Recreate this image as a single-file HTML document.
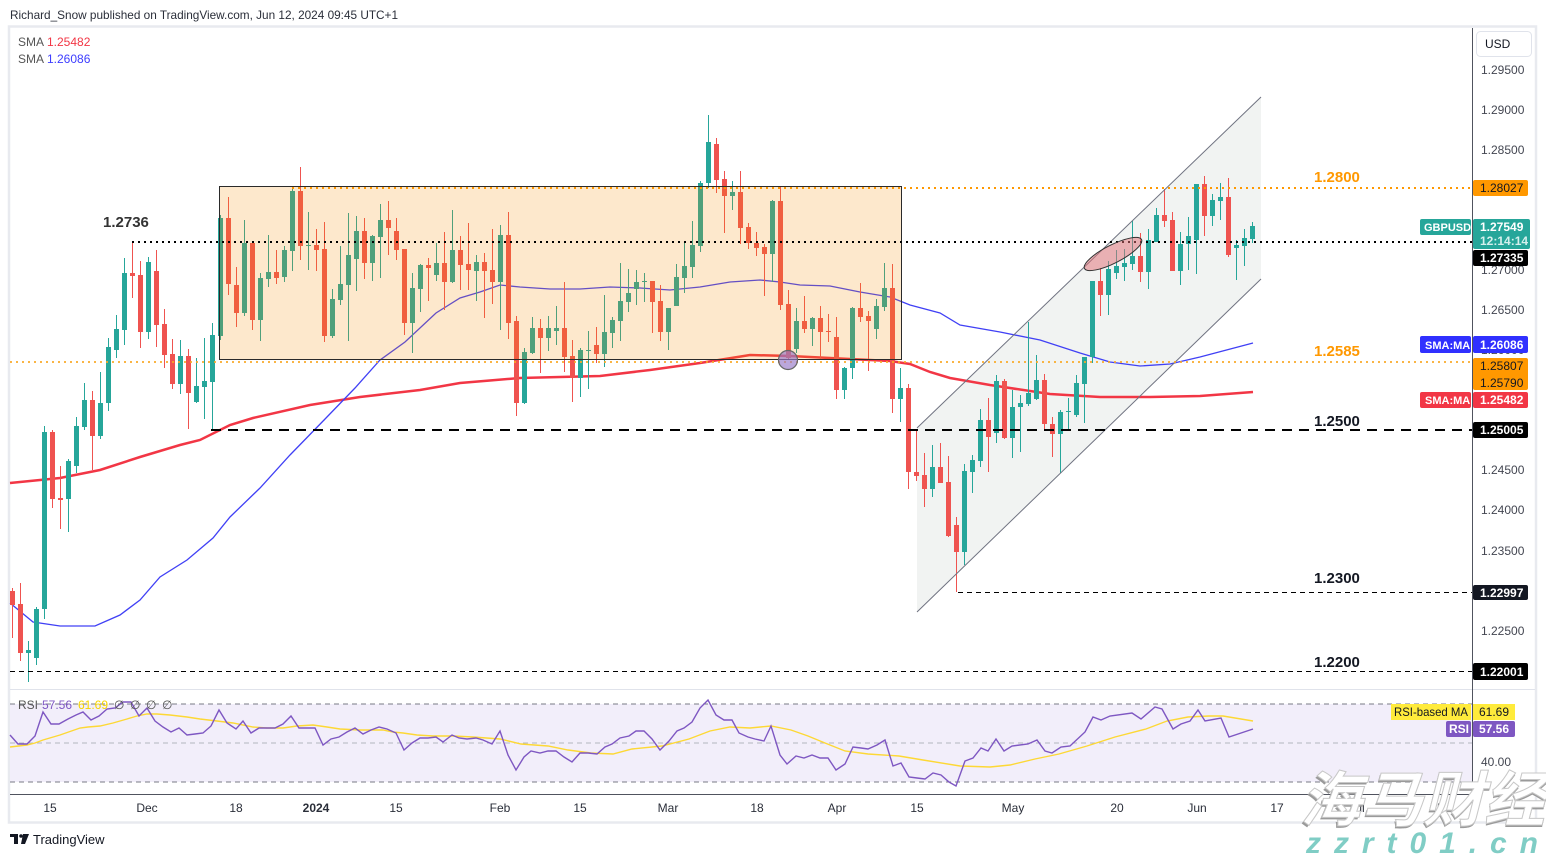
<!DOCTYPE html>
<html><head><meta charset="utf-8"><style>
html,body{margin:0;padding:0;background:#fff;width:1546px;height:857px;overflow:hidden}
svg{position:absolute;left:0;top:0;font-family:"Liberation Sans",Arial,sans-serif}
</style></head><body>
<svg width="1546" height="857" viewBox="0 0 1546 857" xmlns="http://www.w3.org/2000/svg">
<rect x="0" y="0" width="1546" height="857" fill="#fff"/>
<text x="10" y="19" font-size="12" fill="#2a2e39" textLength="388" lengthAdjust="spacingAndGlyphs">Richard_Snow published on TradingView.com, Jun 12, 2024 09:45 UTC+1</text>
<rect x="9" y="26.5" width="1527" height="796" fill="none" stroke="#e8eaef" stroke-width="2.5"/>

<!-- RSI pane -->
<rect x="10" y="704" width="1462" height="78" fill="#f2eefa"/>
<line x1="10" y1="704" x2="1472" y2="704" stroke="#787b86" stroke-dasharray="5 4"/>
<line x1="10" y1="743" x2="1472" y2="743" stroke="#b2b5be" stroke-dasharray="5 4"/>
<line x1="10" y1="782" x2="1472" y2="782" stroke="#787b86" stroke-dasharray="5 4"/>
<line x1="10" y1="689.5" x2="1535" y2="689.5" stroke="#e0e3eb"/>

<!-- channel fill -->
<polygon points="917,428 1261,97 1261,279 917,612" fill="#f1f3f2"/>

<!-- SMAs -->
<polyline fill="none" stroke="#f23645" stroke-width="2.5" points="10,483 60,478 100,470 140,457 180,445 200,440 230,425 253,418 310,405 360,397 420,390 460,383 520,378 600,376 650,370 700,363 750,355 790,356 830,358 890,361 910,364 930,372 950,378 990,385 1050,394 1100,397 1150,397 1200,396 1253,392"/>
<polyline fill="none" stroke="#4040f5" stroke-width="1.3" points="10,603 33,622 60,626 95,626 120,615 140,600 160,577 187,560 213,538 230,517 260,488 290,455 326,418 355,388 380,360 405,342 436,313 460,298 480,292 500,285 520,287 550,289 580,289 610,287 640,288 670,290 700,287 730,282 760,280 780,282 800,285 830,286 860,292 890,297 910,305 940,313 960,325 1000,332 1040,340 1080,353 1110,362 1140,366 1170,364 1200,357 1253,343"/>

<!-- green candles -->
<g fill="#26a69a">
<rect x="26" y="650" width="5" height="3"/><rect x="28" y="641" width="1" height="41"/>
<rect x="34" y="609" width="5" height="49"/><rect x="36" y="607" width="1" height="58"/>
<rect x="42" y="432" width="5" height="177"/><rect x="44" y="426" width="1" height="193"/>
<rect x="66" y="461" width="5" height="38"/><rect x="68" y="459" width="1" height="73"/>
<rect x="74" y="426" width="5" height="40"/><rect x="76" y="417" width="1" height="56"/>
<rect x="82" y="400" width="5" height="27"/><rect x="84" y="383" width="1" height="47"/>
<rect x="98" y="403" width="5" height="33"/><rect x="100" y="372" width="1" height="67"/>
<rect x="106" y="347" width="5" height="56"/><rect x="108" y="338" width="1" height="73"/>
<rect x="114" y="329" width="5" height="21"/><rect x="116" y="315" width="1" height="43"/>
<rect x="122" y="273" width="5" height="57"/><rect x="124" y="258" width="1" height="87"/>
<rect x="146" y="262" width="5" height="70"/><rect x="148" y="257" width="1" height="82"/>
<rect x="178" y="356" width="5" height="28"/><rect x="180" y="340" width="1" height="54"/>
<rect x="194" y="386" width="5" height="16"/><rect x="196" y="358" width="1" height="45"/>
<rect x="202" y="381" width="5" height="6"/><rect x="204" y="338" width="1" height="81"/>
<rect x="210" y="335" width="5" height="47"/><rect x="212" y="323" width="1" height="107"/>
<rect x="218" y="218" width="5" height="118"/><rect x="220" y="215" width="1" height="125"/>
<rect x="242" y="243" width="5" height="70"/><rect x="244" y="220" width="1" height="96"/>
<rect x="258" y="278" width="5" height="42"/><rect x="260" y="273" width="1" height="68"/>
<rect x="266" y="272" width="5" height="7"/><rect x="268" y="235" width="1" height="52"/>
<rect x="282" y="250" width="5" height="27"/><rect x="284" y="246" width="1" height="36"/>
<rect x="290" y="191" width="5" height="60"/><rect x="292" y="188" width="1" height="83"/>
<rect x="306" y="245" width="5" height="1"/><rect x="308" y="212" width="1" height="58"/>
<rect x="330" y="299" width="5" height="37"/><rect x="332" y="289" width="1" height="49"/>
<rect x="338" y="284" width="5" height="16"/><rect x="340" y="246" width="1" height="59"/>
<rect x="346" y="255" width="5" height="30"/><rect x="348" y="213" width="1" height="128"/>
<rect x="354" y="231" width="5" height="28"/><rect x="356" y="216" width="1" height="75"/>
<rect x="370" y="236" width="5" height="27"/><rect x="372" y="235" width="1" height="46"/>
<rect x="378" y="220" width="5" height="17"/><rect x="380" y="204" width="1" height="74"/>
<rect x="410" y="288" width="5" height="35"/><rect x="412" y="273" width="1" height="80"/>
<rect x="418" y="265" width="5" height="24"/><rect x="420" y="264" width="1" height="48"/>
<rect x="434" y="263" width="5" height="12"/><rect x="436" y="243" width="1" height="38"/>
<rect x="450" y="250" width="5" height="32"/><rect x="452" y="210" width="1" height="73"/>
<rect x="474" y="262" width="5" height="9"/><rect x="476" y="255" width="1" height="46"/>
<rect x="498" y="235" width="5" height="47"/><rect x="500" y="225" width="1" height="105"/>
<rect x="522" y="352" width="5" height="51"/><rect x="524" y="348" width="1" height="56"/>
<rect x="530" y="328" width="5" height="25"/><rect x="532" y="317" width="1" height="37"/>
<rect x="546" y="328" width="5" height="10"/><rect x="548" y="316" width="1" height="35"/>
<rect x="554" y="328" width="5" height="3"/><rect x="556" y="306" width="1" height="39"/>
<rect x="578" y="350" width="5" height="28"/><rect x="580" y="348" width="1" height="49"/>
<rect x="586" y="350" width="5" height="1"/><rect x="588" y="331" width="1" height="58"/>
<rect x="602" y="332" width="5" height="22"/><rect x="604" y="295" width="1" height="72"/>
<rect x="610" y="320" width="5" height="13"/><rect x="612" y="317" width="1" height="31"/>
<rect x="618" y="301" width="5" height="20"/><rect x="620" y="263" width="1" height="78"/>
<rect x="626" y="293" width="5" height="9"/><rect x="628" y="269" width="1" height="43"/>
<rect x="634" y="282" width="5" height="7"/><rect x="636" y="270" width="1" height="35"/>
<rect x="642" y="281" width="5" height="1"/><rect x="644" y="273" width="1" height="29"/>
<rect x="666" y="308" width="5" height="24"/><rect x="668" y="308" width="1" height="42"/>
<rect x="674" y="277" width="5" height="29"/><rect x="676" y="264" width="1" height="42"/>
<rect x="682" y="266" width="5" height="12"/><rect x="684" y="243" width="1" height="50"/>
<rect x="690" y="245" width="5" height="22"/><rect x="692" y="221" width="1" height="57"/>
<rect x="698" y="183" width="5" height="63"/><rect x="700" y="181" width="1" height="71"/>
<rect x="706" y="142" width="5" height="41"/><rect x="708" y="115" width="1" height="73"/>
<rect x="730" y="192" width="5" height="4"/><rect x="732" y="181" width="1" height="29"/>
<rect x="770" y="201" width="5" height="53"/><rect x="772" y="200" width="1" height="82"/>
<rect x="794" y="321" width="5" height="28"/><rect x="796" y="308" width="1" height="45"/>
<rect x="810" y="318" width="5" height="11"/><rect x="812" y="317" width="1" height="29"/>
<rect x="842" y="368" width="5" height="22"/><rect x="844" y="367" width="1" height="32"/>
<rect x="850" y="308" width="5" height="60"/><rect x="852" y="307" width="1" height="72"/>
<rect x="874" y="306" width="5" height="23"/><rect x="876" y="299" width="1" height="40"/>
<rect x="882" y="288" width="5" height="19"/><rect x="884" y="263" width="1" height="48"/>
<rect x="898" y="388" width="5" height="11"/><rect x="900" y="368" width="1" height="54"/>
<rect x="930" y="467" width="5" height="22"/><rect x="932" y="445" width="1" height="52"/>
<rect x="962" y="471" width="5" height="81"/><rect x="964" y="464" width="1" height="101"/>
<rect x="970" y="460" width="5" height="12"/><rect x="972" y="455" width="1" height="38"/>
<rect x="978" y="420" width="5" height="41"/><rect x="980" y="409" width="1" height="58"/>
<rect x="994" y="381" width="5" height="52"/><rect x="996" y="375" width="1" height="68"/>
<rect x="1010" y="407" width="5" height="31"/><rect x="1012" y="390" width="1" height="68"/>
<rect x="1018" y="403" width="5" height="4"/><rect x="1020" y="395" width="1" height="57"/>
<rect x="1026" y="393" width="5" height="11"/><rect x="1028" y="322" width="1" height="84"/>
<rect x="1034" y="380" width="5" height="19"/><rect x="1036" y="355" width="1" height="45"/>
<rect x="1058" y="412" width="5" height="22"/><rect x="1060" y="410" width="1" height="63"/>
<rect x="1066" y="411" width="5" height="1"/><rect x="1068" y="398" width="1" height="32"/>
<rect x="1074" y="383" width="5" height="32"/><rect x="1076" y="375" width="1" height="42"/>
<rect x="1082" y="357" width="5" height="27"/><rect x="1084" y="357" width="1" height="66"/>
<rect x="1090" y="281" width="5" height="76"/><rect x="1092" y="281" width="1" height="82"/>
<rect x="1106" y="269" width="5" height="26"/><rect x="1108" y="261" width="1" height="54"/>
<rect x="1114" y="266" width="5" height="7"/><rect x="1116" y="250" width="1" height="29"/>
<rect x="1122" y="263" width="5" height="4"/><rect x="1124" y="249" width="1" height="32"/>
<rect x="1130" y="256" width="5" height="8"/><rect x="1132" y="221" width="1" height="49"/>
<rect x="1146" y="240" width="5" height="32"/><rect x="1148" y="229" width="1" height="60"/>
<rect x="1154" y="215" width="5" height="27"/><rect x="1156" y="208" width="1" height="34"/>
<rect x="1178" y="244" width="5" height="27"/><rect x="1180" y="232" width="1" height="53"/>
<rect x="1186" y="236" width="5" height="8"/><rect x="1188" y="217" width="1" height="53"/>
<rect x="1194" y="184" width="5" height="56"/><rect x="1196" y="184" width="1" height="90"/>
<rect x="1210" y="200" width="5" height="16"/><rect x="1212" y="194" width="1" height="32"/>
<rect x="1218" y="197" width="5" height="4"/><rect x="1220" y="183" width="1" height="37"/>
<rect x="1234" y="245" width="5" height="3"/><rect x="1236" y="240" width="1" height="40"/>
<rect x="1242" y="238" width="5" height="8"/><rect x="1244" y="229" width="1" height="37"/>
<rect x="1250" y="226" width="5" height="13"/><rect x="1252" y="222" width="1" height="21"/>
</g>
<!-- red candles -->
<g fill="#ef5350">
<rect x="10" y="591" width="5" height="14"/><rect x="12" y="588" width="1" height="50"/>
<rect x="18" y="604" width="5" height="49"/><rect x="20" y="583" width="1" height="78"/>
<rect x="50" y="432" width="5" height="67"/><rect x="52" y="430" width="1" height="78"/>
<rect x="58" y="498" width="5" height="2"/><rect x="60" y="466" width="1" height="63"/>
<rect x="90" y="400" width="5" height="36"/><rect x="92" y="391" width="1" height="79"/>
<rect x="130" y="273" width="5" height="3"/><rect x="132" y="243" width="1" height="55"/>
<rect x="138" y="275" width="5" height="57"/><rect x="140" y="261" width="1" height="87"/>
<rect x="154" y="271" width="5" height="54"/><rect x="156" y="250" width="1" height="97"/>
<rect x="162" y="324" width="5" height="31"/><rect x="164" y="309" width="1" height="59"/>
<rect x="170" y="354" width="5" height="30"/><rect x="172" y="339" width="1" height="50"/>
<rect x="186" y="356" width="5" height="37"/><rect x="188" y="349" width="1" height="80"/>
<rect x="226" y="218" width="5" height="66"/><rect x="228" y="197" width="1" height="98"/>
<rect x="234" y="285" width="5" height="28"/><rect x="236" y="267" width="1" height="60"/>
<rect x="250" y="243" width="5" height="77"/><rect x="252" y="243" width="1" height="87"/>
<rect x="274" y="272" width="5" height="6"/><rect x="276" y="250" width="1" height="34"/>
<rect x="298" y="191" width="5" height="55"/><rect x="300" y="167" width="1" height="93"/>
<rect x="314" y="245" width="5" height="5"/><rect x="316" y="229" width="1" height="42"/>
<rect x="322" y="249" width="5" height="87"/><rect x="324" y="222" width="1" height="120"/>
<rect x="362" y="231" width="5" height="32"/><rect x="364" y="218" width="1" height="61"/>
<rect x="386" y="220" width="5" height="8"/><rect x="388" y="201" width="1" height="54"/>
<rect x="394" y="231" width="5" height="19"/><rect x="396" y="218" width="1" height="42"/>
<rect x="402" y="249" width="5" height="74"/><rect x="404" y="249" width="1" height="86"/>
<rect x="426" y="265" width="5" height="3"/><rect x="428" y="258" width="1" height="43"/>
<rect x="442" y="263" width="5" height="19"/><rect x="444" y="232" width="1" height="78"/>
<rect x="458" y="250" width="5" height="15"/><rect x="460" y="236" width="1" height="54"/>
<rect x="466" y="264" width="5" height="6"/><rect x="468" y="223" width="1" height="67"/>
<rect x="482" y="262" width="5" height="9"/><rect x="484" y="253" width="1" height="65"/>
<rect x="490" y="270" width="5" height="12"/><rect x="492" y="229" width="1" height="75"/>
<rect x="506" y="235" width="5" height="88"/><rect x="508" y="212" width="1" height="127"/>
<rect x="514" y="321" width="5" height="82"/><rect x="516" y="316" width="1" height="100"/>
<rect x="538" y="328" width="5" height="10"/><rect x="540" y="319" width="1" height="54"/>
<rect x="562" y="328" width="5" height="29"/><rect x="564" y="282" width="1" height="90"/>
<rect x="570" y="356" width="5" height="22"/><rect x="572" y="340" width="1" height="62"/>
<rect x="594" y="345" width="5" height="9"/><rect x="596" y="327" width="1" height="36"/>
<rect x="650" y="281" width="5" height="21"/><rect x="652" y="281" width="1" height="52"/>
<rect x="658" y="301" width="5" height="31"/><rect x="660" y="285" width="1" height="56"/>
<rect x="714" y="144" width="5" height="36"/><rect x="716" y="138" width="1" height="55"/>
<rect x="722" y="179" width="5" height="17"/><rect x="724" y="171" width="1" height="62"/>
<rect x="738" y="192" width="5" height="36"/><rect x="740" y="171" width="1" height="73"/>
<rect x="746" y="227" width="5" height="16"/><rect x="748" y="223" width="1" height="26"/>
<rect x="754" y="243" width="5" height="5"/><rect x="756" y="232" width="1" height="24"/>
<rect x="762" y="247" width="5" height="7"/><rect x="764" y="244" width="1" height="52"/>
<rect x="778" y="201" width="5" height="104"/><rect x="780" y="187" width="1" height="123"/>
<rect x="786" y="304" width="5" height="54"/><rect x="788" y="290" width="1" height="70"/>
<rect x="802" y="321" width="5" height="8"/><rect x="804" y="296" width="1" height="37"/>
<rect x="818" y="318" width="5" height="14"/><rect x="820" y="306" width="1" height="54"/>
<rect x="826" y="331" width="5" height="1"/><rect x="828" y="314" width="1" height="28"/>
<rect x="834" y="337" width="5" height="53"/><rect x="836" y="317" width="1" height="82"/>
<rect x="858" y="308" width="5" height="9"/><rect x="860" y="283" width="1" height="39"/>
<rect x="866" y="316" width="5" height="5"/><rect x="868" y="311" width="1" height="60"/>
<rect x="890" y="288" width="5" height="111"/><rect x="892" y="264" width="1" height="149"/>
<rect x="906" y="388" width="5" height="84"/><rect x="908" y="384" width="1" height="105"/>
<rect x="914" y="472" width="5" height="4"/><rect x="916" y="431" width="1" height="50"/>
<rect x="922" y="475" width="5" height="14"/><rect x="924" y="453" width="1" height="54"/>
<rect x="938" y="467" width="5" height="16"/><rect x="940" y="443" width="1" height="40"/>
<rect x="946" y="482" width="5" height="54"/><rect x="948" y="456" width="1" height="81"/>
<rect x="954" y="525" width="5" height="27"/><rect x="956" y="517" width="1" height="75"/>
<rect x="986" y="420" width="5" height="17"/><rect x="988" y="398" width="1" height="74"/>
<rect x="1002" y="381" width="5" height="57"/><rect x="1004" y="379" width="1" height="60"/>
<rect x="1042" y="380" width="5" height="44"/><rect x="1044" y="374" width="1" height="55"/>
<rect x="1050" y="424" width="5" height="10"/><rect x="1052" y="417" width="1" height="40"/>
<rect x="1098" y="281" width="5" height="14"/><rect x="1100" y="268" width="1" height="48"/>
<rect x="1138" y="256" width="5" height="16"/><rect x="1140" y="233" width="1" height="49"/>
<rect x="1162" y="215" width="5" height="6"/><rect x="1164" y="189" width="1" height="38"/>
<rect x="1170" y="220" width="5" height="51"/><rect x="1172" y="212" width="1" height="59"/>
<rect x="1202" y="184" width="5" height="32"/><rect x="1204" y="176" width="1" height="60"/>
<rect x="1226" y="197" width="5" height="58"/><rect x="1228" y="178" width="1" height="79"/>
</g>

<!-- range box -->
<rect x="219.5" y="186.5" width="682" height="173" fill="rgba(246,140,0,0.2)" stroke="#2a2a2a" stroke-width="1"/>

<!-- channel lines -->
<line x1="917" y1="428" x2="1261" y2="97" stroke="#6f7280" stroke-width="1"/>
<line x1="917" y1="612" x2="1261" y2="279" stroke="#6f7280" stroke-width="1"/>

<!-- horizontal levels -->
<line x1="292" y1="188" x2="1472" y2="188" stroke="#ff9800" stroke-width="2" stroke-dasharray="2 4"/>
<line x1="10" y1="362" x2="1472" y2="362" stroke="#f9a825" stroke-opacity="0.85" stroke-width="2" stroke-dasharray="2 4"/>
<line x1="132" y1="242" x2="1472" y2="242" stroke="#000" stroke-width="2" stroke-dasharray="2 4"/>
<line x1="211" y1="430" x2="1472" y2="430" stroke="#000" stroke-width="2" stroke-dasharray="10 7"/>
<line x1="958" y1="592.5" x2="1472" y2="592.5" stroke="#000" stroke-width="1" stroke-dasharray="5 4"/>
<line x1="10" y1="671.5" x2="1472" y2="671.5" stroke="#000" stroke-width="1" stroke-dasharray="5 4"/>

<!-- annotations -->
<ellipse cx="1113" cy="254" rx="32" ry="9" transform="rotate(-27 1113 254)" fill="rgba(225,110,115,0.5)" stroke="#333" stroke-width="1"/>
<circle cx="788" cy="360" r="9.5" fill="rgba(150,120,200,0.65)" stroke="#666" stroke-width="1.2"/>

<g font-weight="bold" font-size="15">
<text x="103" y="227" fill="#333">1.2736</text>
<text x="1314" y="182" fill="#ff9800">1.2800</text>
<text x="1314" y="356" fill="#ff9800">1.2585</text>
<text x="1314" y="426" fill="#131722">1.2500</text>
<text x="1314" y="583" fill="#131722">1.2300</text>
<text x="1314" y="667" fill="#131722">1.2200</text>
</g>

<!-- legend -->
<g font-size="12">
<text x="18" y="46" fill="#555">SMA</text><text x="47" y="46" fill="#f23645">1.25482</text>
<text x="18" y="63" fill="#555">SMA</text><text x="47" y="63" fill="#3d3dff">1.26086</text>
</g>

<!-- RSI lines -->
<polyline fill="none" stroke="#fdd835" stroke-width="1.4" points="10,747 27,745 35,743 43,740 60,735 80,728 88,727 100,726 113,723 127,719 137,716 147,714 157,714 170,715 187,717 200,719 217,721 233,723 253,727 267,728 283,728 297,726 313,725 327,727 340,729 360,730 383,730 393,732 403,733 417,735 433,736 453,736 473,737 500,739 521,744 548,746 568,750 591,753 613,754 632,749 662,746 689,739 710,731 730,727 750,728 771,726 791,730 808,736 825,743 845,751 868,754 899,756 923,760 960,766 990,767 1010,765 1035,759 1059,754 1087,746 1115,737 1146,729 1167,721 1188,717 1209,716 1223,716 1253,721"/>
<polyline fill="none" stroke="#7e57c2" stroke-width="1.4" points="10,735 18,744 27,744 35,736 43,712 51,724 59,724 68,719 76,715 83,712 91,720 99,716 107,709 115,708 123,702 131,702 139,716 147,708 155,721 163,727 171,732 179,728 187,735 195,734 203,733 211,726 219,710 227,723 236,729 243,721 251,733 259,728 267,728 275,728 283,724 291,716 299,728 307,728 315,728 323,745 331,739 339,737 347,732 355,728 363,734 371,730 379,727 387,729 396,733 404,750 412,743 420,738 428,738 436,737 443,742 452,735 459,738 467,739 476,738 483,740 492,744 500,731 508,755 516,770 524,757 531,751 540,753 548,751 556,751 564,757 572,762 580,753 588,753 597,754 605,747 612,744 620,738 629,736 636,731 644,731 652,739 660,750 669,741 677,731 684,728 692,722 700,708 708,700 716,715 724,720 732,720 739,733 748,737 755,739 764,741 771,726 780,755 787,764 796,756 804,758 812,755 820,758 828,758 836,770 845,764 853,747 861,748 868,749 877,745 885,740 893,766 901,763 909,777 917,778 925,779 933,773 941,775 949,782 956,786 965,761 973,758 981,748 988,751 996,739 1004,751 1012,746 1028,744 1037,740 1045,751 1052,753 1061,747 1070,746 1085,732 1093,717 1101,720 1110,716 1132,713 1141,719 1155,707 1162,709 1173,729 1181,724 1190,721 1198,710 1205,721 1221,718 1229,737 1253,729"/>
<g font-size="12">
<text x="18" y="709" fill="#555">RSI</text>
<text x="42" y="709" fill="#7e57c2">57.56</text>
<text x="78" y="709" fill="#f5d400">61.69</text>
<text x="114" y="709" fill="#555">∅</text><text x="130" y="709" fill="#555">∅</text><text x="146" y="709" fill="#555">∅</text><text x="162" y="709" fill="#555">∅</text>
</g>

<!-- axes -->
<line x1="1472.5" y1="28" x2="1472.5" y2="822" stroke="#50535e" stroke-width="1"/>
<line x1="10" y1="794.5" x2="1472" y2="794.5" stroke="#50535e" stroke-width="1"/>

<!-- time labels -->
<g font-size="12" fill="#2a2e39" text-anchor="middle">
<text x="50" y="812">15</text><text x="147" y="812">Dec</text><text x="236" y="812">18</text>
<text x="316" y="812" font-weight="bold">2024</text><text x="396" y="812">15</text><text x="500" y="812">Feb</text>
<text x="580" y="812">15</text><text x="668" y="812">Mar</text><text x="757" y="812">18</text>
<text x="837" y="812">Apr</text><text x="917" y="812">15</text><text x="1013" y="812">May</text>
<text x="1117" y="812">20</text><text x="1197" y="812">Jun</text><text x="1277" y="812">17</text>
<text x="1357" y="812">Jul</text><text x="1437" y="812">15</text>
</g>

<!-- price axis labels -->
<rect x="1476.5" y="31.5" width="55" height="25" rx="4" fill="#fff" stroke="#e0e3eb"/>
<text x="1485" y="48" font-size="12" fill="#131722">USD</text>
<g font-size="12" fill="#434651">
<text x="1481" y="74">1.29500</text><text x="1481" y="114">1.29000</text><text x="1481" y="154">1.28500</text>
<text x="1481" y="274">1.27000</text><text x="1481" y="314">1.26500</text><text x="1481" y="354">1.26000</text>
<text x="1481" y="474">1.24500</text><text x="1481" y="514">1.24000</text><text x="1481" y="555">1.23500</text>
<text x="1481" y="635">1.22500</text><text x="1481" y="766">40.00</text>
</g>
<g font-size="12">
<rect x="1473" y="180" width="55" height="16" rx="2" fill="#ff9800"/><text x="1480" y="192" fill="#131722">1.28027</text>
<rect x="1420" y="219" width="51" height="16" rx="2" fill="#26a69a"/><text x="1424" y="231" fill="#fff" font-weight="bold" font-size="11">GBPUSD</text>
<rect x="1473" y="219" width="57" height="30" rx="2" fill="#26a69a"/><text x="1480" y="231" fill="#fff" font-weight="bold">1.27549</text><text x="1480" y="245" fill="#d6f0ed" font-weight="bold">12:14:14</text>
<rect x="1473" y="250" width="55" height="16" rx="2" fill="#000"/><text x="1480" y="262" fill="#fff" font-weight="bold">1.27335</text>
<rect x="1420" y="336" width="51" height="17" rx="2" fill="#3030ff"/><text x="1425" y="349" fill="#fff" font-weight="bold" font-size="11">SMA:MA</text>
<rect x="1473" y="336" width="55" height="17" rx="2" fill="#3030ff"/><text x="1480" y="349" fill="#fff" font-weight="bold">1.26086</text>
<rect x="1473" y="358" width="55" height="32" rx="2" fill="#ff9800"/><text x="1480" y="370" fill="#131722">1.25807</text><text x="1480" y="387" fill="#131722">1.25790</text>
<rect x="1420" y="392" width="51" height="16" rx="2" fill="#f23645"/><text x="1425" y="404" fill="#fff" font-weight="bold" font-size="11">SMA:MA</text>
<rect x="1473" y="392" width="55" height="16" rx="2" fill="#f23645"/><text x="1480" y="404" fill="#fff" font-weight="bold">1.25482</text>
<rect x="1473" y="422" width="55" height="16" rx="2" fill="#000"/><text x="1480" y="434" fill="#fff" font-weight="bold">1.25005</text>
<rect x="1473" y="585" width="55" height="15" rx="2" fill="#131722"/><text x="1480" y="597" fill="#fff" font-weight="bold">1.22997</text>
<rect x="1473" y="663" width="55" height="17" rx="2" fill="#000"/><text x="1480" y="676" fill="#fff" font-weight="bold">1.22001</text>
<rect x="1391" y="704" width="80" height="16" fill="#ffeb3b"/><text x="1394" y="716" fill="#131722" textLength="74" lengthAdjust="spacingAndGlyphs">RSI-based MA</text>
<rect x="1473" y="704" width="42" height="16" fill="#ffeb3b"/><text x="1479" y="716" fill="#131722">61.69</text>
<rect x="1446" y="721" width="25" height="16" rx="2" fill="#7e57c2"/><text x="1449" y="733" fill="#fff" font-weight="bold">RSI</text>
<rect x="1473" y="721" width="42" height="16" rx="2" fill="#7e57c2"/><text x="1479" y="733" fill="#fff" font-weight="bold">57.56</text>
</g>

<!-- TradingView logo -->
<g fill="#131722">
<rect x="10" y="834" width="8" height="3"/><rect x="14" y="834" width="4" height="10"/>
<circle cx="21" cy="836" r="1.8"/><polygon points="23,834 29,834 25,844 21,844"/>
</g>
<text x="33" y="844" font-size="13" fill="#131722">TradingView</text>

<!-- watermark -->
<g font-family="'Noto Sans CJK SC','WenQuanYi Zen Hei',sans-serif" font-weight="bold" font-size="60" font-style="italic">
<text x="1298" y="823" fill="#9a9a9a" textLength="247" lengthAdjust="spacingAndGlyphs">海马财经</text>
<text x="1300" y="821" fill="#ffffff" stroke="#c8c8c8" stroke-width="1" textLength="245" lengthAdjust="spacingAndGlyphs">海马财经</text>
</g>
<text x="1306" y="853" font-size="30" font-weight="bold" font-style="italic" fill="#80cdc5" textLength="232" lengthAdjust="spacing">zzrt01.cn</text>
</svg>
</body></html>
